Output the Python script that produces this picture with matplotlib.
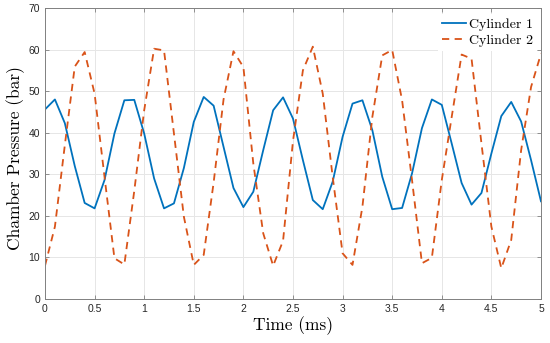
import matplotlib
matplotlib.use("Agg")
import matplotlib.pyplot as plt
import numpy as np

# time samples (ms), 0.1 ms step
t = np.round(np.arange(0, 5.01, 0.1), 2)

cyl1 = [45.6, 48.0, 42.3, 32.0, 23.1, 21.8, 28.6, 39.8, 47.8, 47.9,
        39.8, 29.0, 21.8, 23.0, 31.5, 42.6, 48.6, 46.5, 36.6, 26.7,
        22.1, 25.8, 35.8, 45.4, 48.5, 43.4, 33.4, 23.8, 21.6, 28.2,
        39.0, 47.0, 47.8, 40.6, 29.4, 21.6, 21.9, 30.2, 41.1, 48.0,
        46.7, 37.4, 27.9, 22.7, 25.5, 35.0, 44.0, 47.4, 42.7, 33.4,
        23.5]

cyl2 = [8.0, 17.4, 37.0, 55.9, 59.4, 49.4, 29.4, 9.8, 8.3, 26.0,
        45.4, 60.2, 59.8, 39.8, 19.8, 8.2, 10.6, 28.0, 48.0, 59.6,
        55.8, 32.6, 15.8, 8.0, 14.0, 38.0, 55.0, 60.7, 49.4, 29.4,
        11.0, 8.2, 22.2, 43.8, 58.6, 59.9, 47.8, 28.6, 8.6, 9.9,
        28.6, 43.8, 58.8, 57.8, 37.4, 17.4, 7.4, 14.2, 35.8, 51.0,
        59.0]

plt.rcParams['font.family'] = ['Liberation Sans', 'DejaVu Sans']

fig = plt.figure(figsize=(5.5, 3.43), dpi=100)
ax = fig.add_axes([0.0818, 0.1283, 0.9018, 0.8484])

ax.plot(t, cyl1, color='#0072BD', lw=1.3, label='Cylinder 1')
ax.plot(t, cyl2, color='#D95319', lw=1.3, ls=(0, (4, 3)), label='Cylinder 2')

ax.set_xlim(0, 5)
ax.set_ylim(0, 70)
ax.set_xticks(np.arange(0, 5.01, 0.5))
ax.set_xticklabels(['0', '0.5', '1', '1.5', '2', '2.5', '3', '3.5', '4', '4.5', '5'])
ax.set_yticks(np.arange(0, 71, 10))
ax.grid(True, color='#e6e6e6', lw=0.7)
ax.set_axisbelow(True)
ax.tick_params(direction='in', top=True, right=True, labelsize=7.5,
               color='#808080', length=3, width=0.6, labelcolor='#262626')
for s in ax.spines.values():
    s.set_color('#808080')
    s.set_linewidth(0.7)

serif = {'family': 'cmr10', 'size': 12.5}
ax.set_xlabel('Time (ms)', fontdict=serif, labelpad=2)
ax.set_ylabel('Chamber Pressure (bar)', fontdict=serif)
ax.yaxis.set_label_coords(-0.040, 0.486)

leg = ax.legend(loc='upper right', bbox_to_anchor=(0.995, 0.985),
                prop={'family': 'cmr10', 'size': 10},
                handlelength=1.75, borderaxespad=0.1, labelspacing=0.25,
                handletextpad=0.2, borderpad=0.3)
leg.get_frame().set_facecolor('white')
leg.get_frame().set_edgecolor('none')
leg.get_frame().set_alpha(1)
leg.get_frame().set_boxstyle('square', pad=0)

fig.savefig('out.png', dpi=100)
